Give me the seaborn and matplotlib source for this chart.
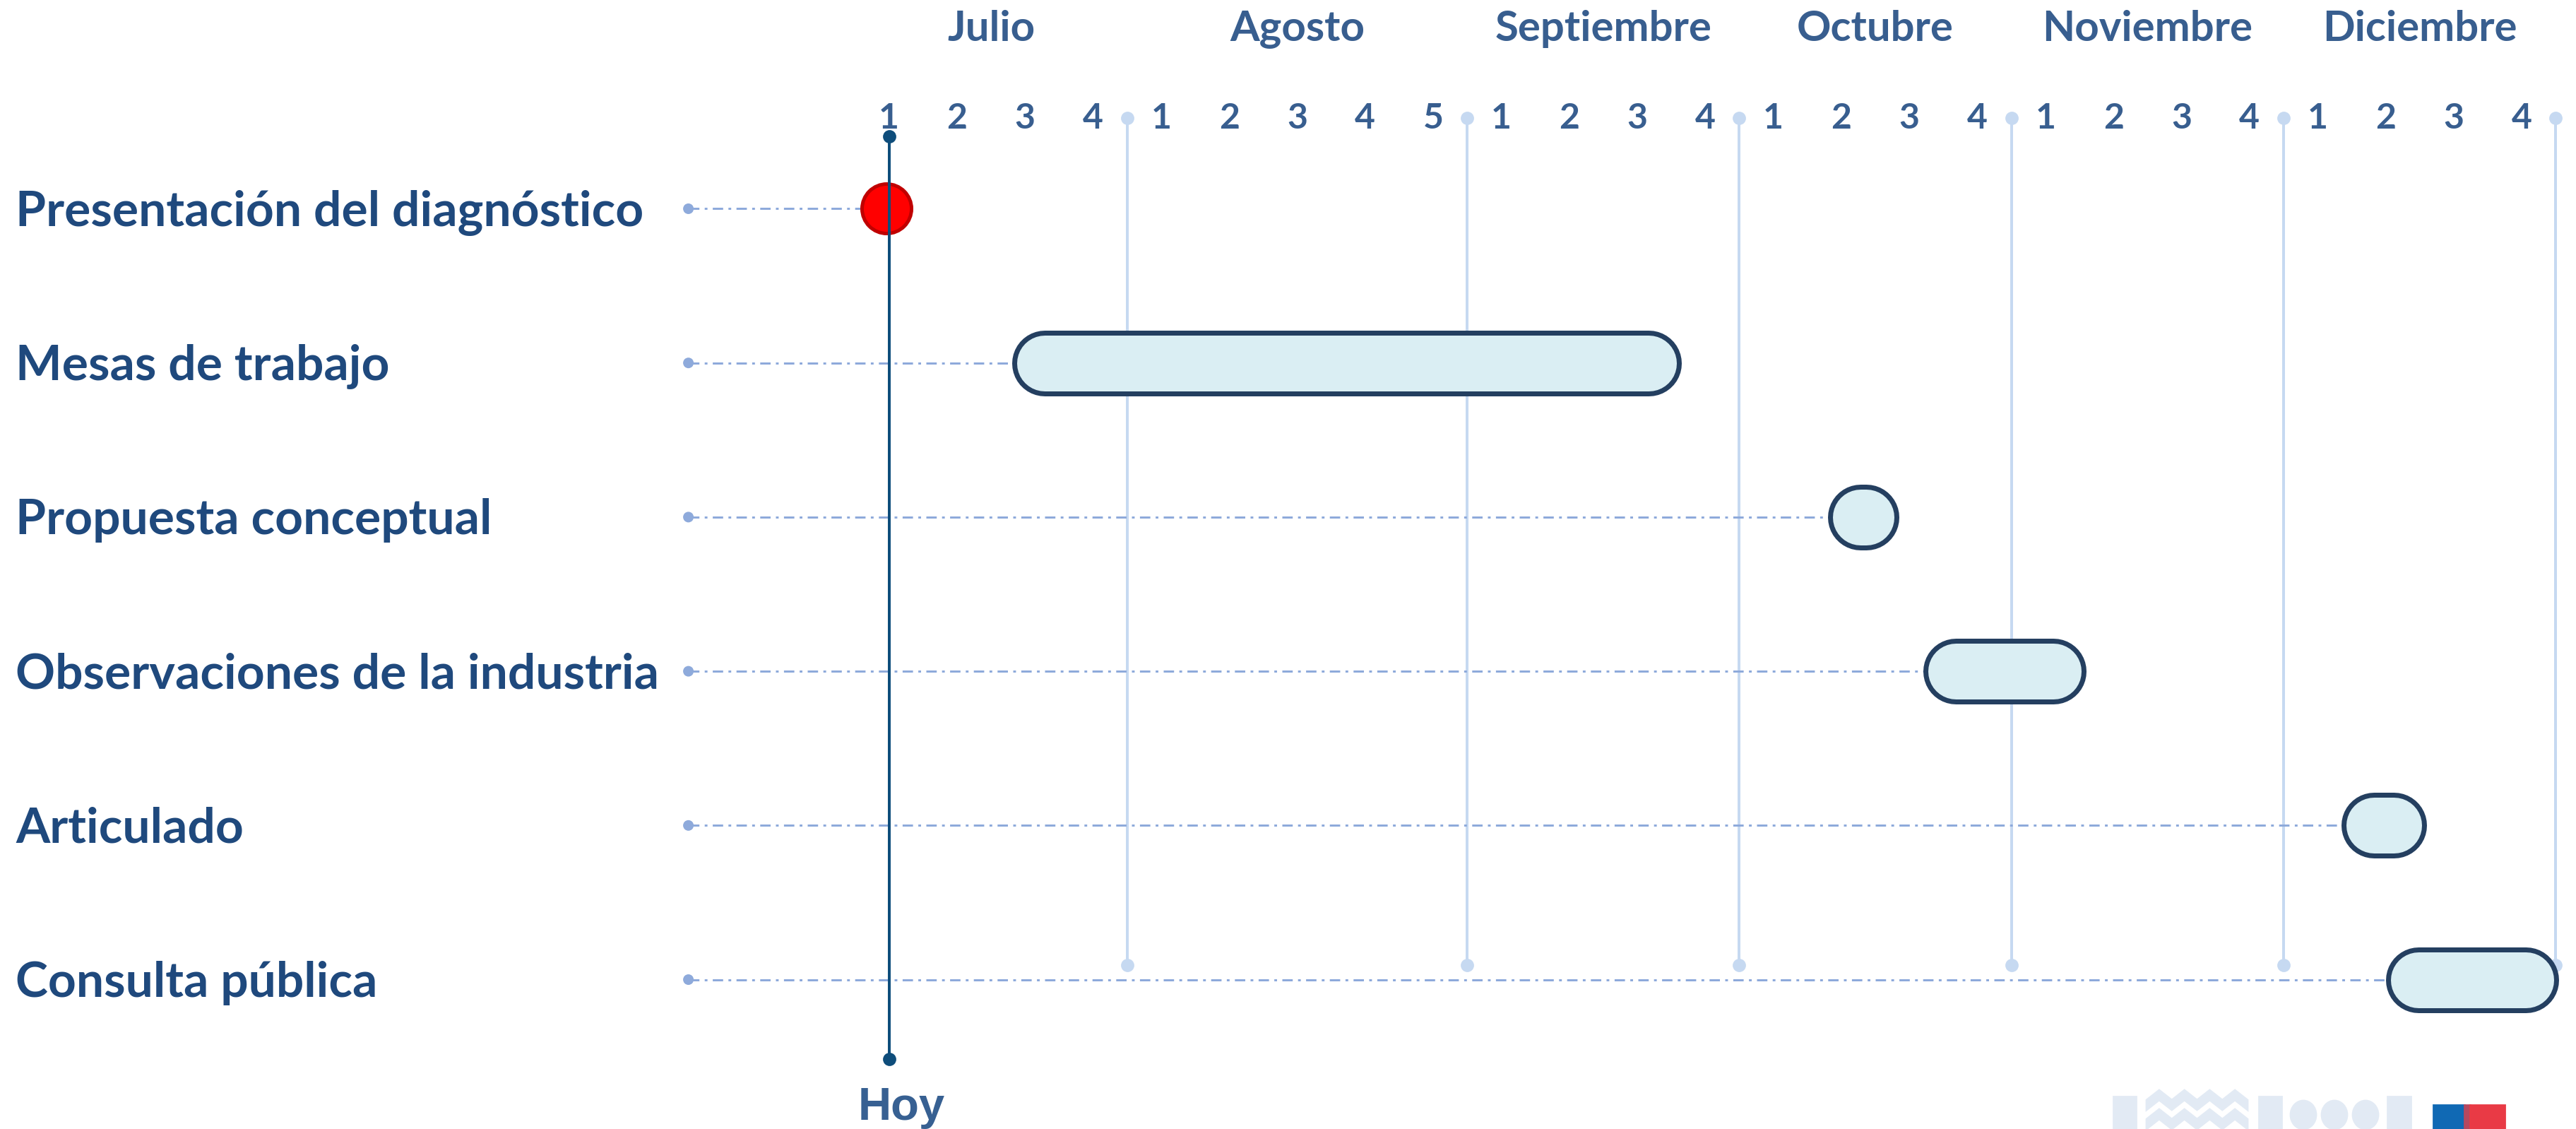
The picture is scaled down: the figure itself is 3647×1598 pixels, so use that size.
import numpy as np
import pandas as pd
import matplotlib
matplotlib.use("Agg")
import matplotlib.pyplot as plt
import seaborn as sns
from matplotlib.patches import Rectangle, Ellipse, Polygon

# Data: tasks and their spans, in week units (0 = week 1 of Julio)
tasks = [
    "Presentación del diagnóstico",
    "Mesas de trabajo",
    "Propuesta conceptual",
    "Observaciones de la industria",
    "Articulado",
    "Consulta pública",
]
task_start = [0.0, 1.8, 13.8, 15.2, 21.35, 22.0]
task_end = [0.0, 11.65, 14.85, 17.6, 22.6, 24.55]
is_milestone = [True, False, False, False, False, False]

months = ["Julio", "Agosto", "Septiembre", "Octubre", "Noviembre", "Diciembre"]
weeks_per_month = [4, 5, 4, 4, 4, 4]
today_week = 0
today_label = "Hoy"

# colours
MONTH_COL = "#385E8F"
LABEL_COL = "#1F497D"
HOY_COL = "#0E4D7B"
SEP_COL = "#C6D9F1"
LEADER_COL = "#8EAADB"
BAR_FILL = "#DAEEF3"
BAR_EDGE = "#243F60"

W, H, DPI = 3648, 1598, 200
PX = 72 / DPI  # points per pixel

sns.set_theme(style="white")
plt.rcParams["font.family"] = ["Lato", "DejaVu Sans"]

fig = plt.figure(figsize=(W / DPI, H / DPI), dpi=DPI)
ax = fig.add_axes([0, 0, 1, 1])
xmin, xmax = -13.07, 24.81
ax.set_xlim(xmin, xmax)
ax.set_ylim(5.969, -1.354)
ax.axis("off")

week_per_px = (xmax - xmin) / W

# week numbers, month names, month separators
df_weeks = pd.DataFrame(
    [(m, w + 1) for m, n in zip(months, weeks_per_month) for w in range(n)],
    columns=["month", "week"],
)
df_weeks["pos"] = np.arange(len(df_weeks))

for _, r in df_weeks.iterrows():
    ax.text(r["pos"], -0.52, str(r["week"]), ha="center", va="baseline",
            fontsize=18, fontweight="bold", color=MONTH_COL)

month_pos = df_weeks.groupby("month", sort=False)["pos"].agg(["min", "max"])
sep_top, sep_bot = -0.589, 4.906
for m in months:
    lo, hi = month_pos.loc[m, "min"], month_pos.loc[m, "max"]
    ax.text((lo + hi) / 2, -1.088, m, ha="center", va="baseline",
            fontsize=21.6, fontweight="bold", color=MONTH_COL)
    sx = hi + 0.5
    ax.plot([sx, sx], [sep_top, sep_bot], color=SEP_COL, lw=4 * PX, zorder=1)
    ax.plot([sx, sx], [sep_top, sep_bot], ls="none", marker="o",
            markersize=16 * PX, color=SEP_COL, zorder=1)

# task rows
leader_x = -2.95
rows = np.arange(len(tasks))
df_tasks = pd.DataFrame({"task": tasks, "start": task_start, "end": task_end,
                         "milestone": is_milestone, "row": rows})

for _, t in df_tasks.iterrows():
    ax.text(xmin + 22 * week_per_px, t["row"] + 0.112, t["task"], ha="left",
            va="baseline", fontsize=25, fontweight="bold", color=LABEL_COL)
    ax.plot([leader_x, t["start"]], [t["row"], t["row"]], color=LEADER_COL,
            lw=3 * PX, ls=(0, (4.9, 2.5, 1.3, 2.5)), zorder=2)

sns.scatterplot(x=[leader_x] * len(rows), y=rows, ax=ax, color=LEADER_COL,
                s=(15 * PX) ** 2, edgecolor="none", zorder=2, legend=False)

bar_h = 93  # px, outer height
edge = 7
cap = bar_h / 2 * week_per_px
for _, t in df_tasks[~df_tasks["milestone"]].iterrows():
    x0, x1 = t["start"] + cap, t["end"] - cap
    ax.plot([x0, x1], [t["row"], t["row"]], color=BAR_EDGE, lw=bar_h * PX,
            solid_capstyle="round", zorder=3)
    ax.plot([x0, x1], [t["row"], t["row"]], color=BAR_FILL,
            lw=(bar_h - 2 * edge) * PX, solid_capstyle="round", zorder=3.1)

ms = df_tasks[df_tasks["milestone"]]
sns.scatterplot(x=ms["start"] - 0.04, y=ms["row"], ax=ax, color="#FF0000",
                edgecolor="#C00000", linewidth=5 * PX, s=(70 * PX) ** 2,
                zorder=3.5, legend=False)

# today line
hoy_top, hoy_bot = -0.47, 5.516
ax.plot([today_week, today_week], [hoy_top, hoy_bot], color=HOY_COL,
        lw=4 * PX, zorder=4, marker="o", markersize=16 * PX)
ax.text(today_week + 0.18, 5.911, today_label, ha="center", va="baseline",
        fontsize=23.5, fontweight="bold", color="#376092",
        family=["Liberation Sans", "DejaVu Sans"])


# footer logo (decorative)
def fx(px):
    return px / W


def fy(py):
    return 1 - py / H


LOGO = "#E2EAF4"
for x0, x1 in [(2992, 3024), (3198, 3230), (3380, 3413)]:
    fig.patches.append(Rectangle((fx(x0), fy(1598)), fx(x1) - fx(x0),
                                 fy(1552) - fy(1598), transform=fig.transFigure,
                                 color=LOGO, zorder=0))
for yb in [1543, 1570]:
    pts = []
    xs = np.linspace(3039, 3182, 9)
    for i, xx in enumerate(xs):
        pts.append((fx(xx), fy(yb + (0 if i % 2 else 14))))
    for i, xx in enumerate(xs[::-1]):
        pts.append((fx(xx), fy(yb + 14 + (0 if (len(xs) - 1 - i) % 2 else 14))))
    fig.patches.append(Polygon(pts, closed=True, transform=fig.transFigure,
                               color=LOGO, zorder=0))
for cx in [3261, 3305, 3349]:
    fig.patches.append(Ellipse((fx(cx), fy(1578)), fx(36), 40 / H,
                               transform=fig.transFigure, color=LOGO, zorder=0))
fig.patches.append(Rectangle((fx(3445), 0), fx(44), 34 / H,
                             transform=fig.transFigure, color="#1069B4"))
fig.patches.append(Rectangle((fx(3489), 0), fx(8), 34 / H,
                             transform=fig.transFigure, color="#B5485F"))
fig.patches.append(Rectangle((fx(3497), 0), fx(49), 34 / H,
                             transform=fig.transFigure, color="#E93A45"))

fig.savefig("out.png", dpi=DPI, facecolor="white")
